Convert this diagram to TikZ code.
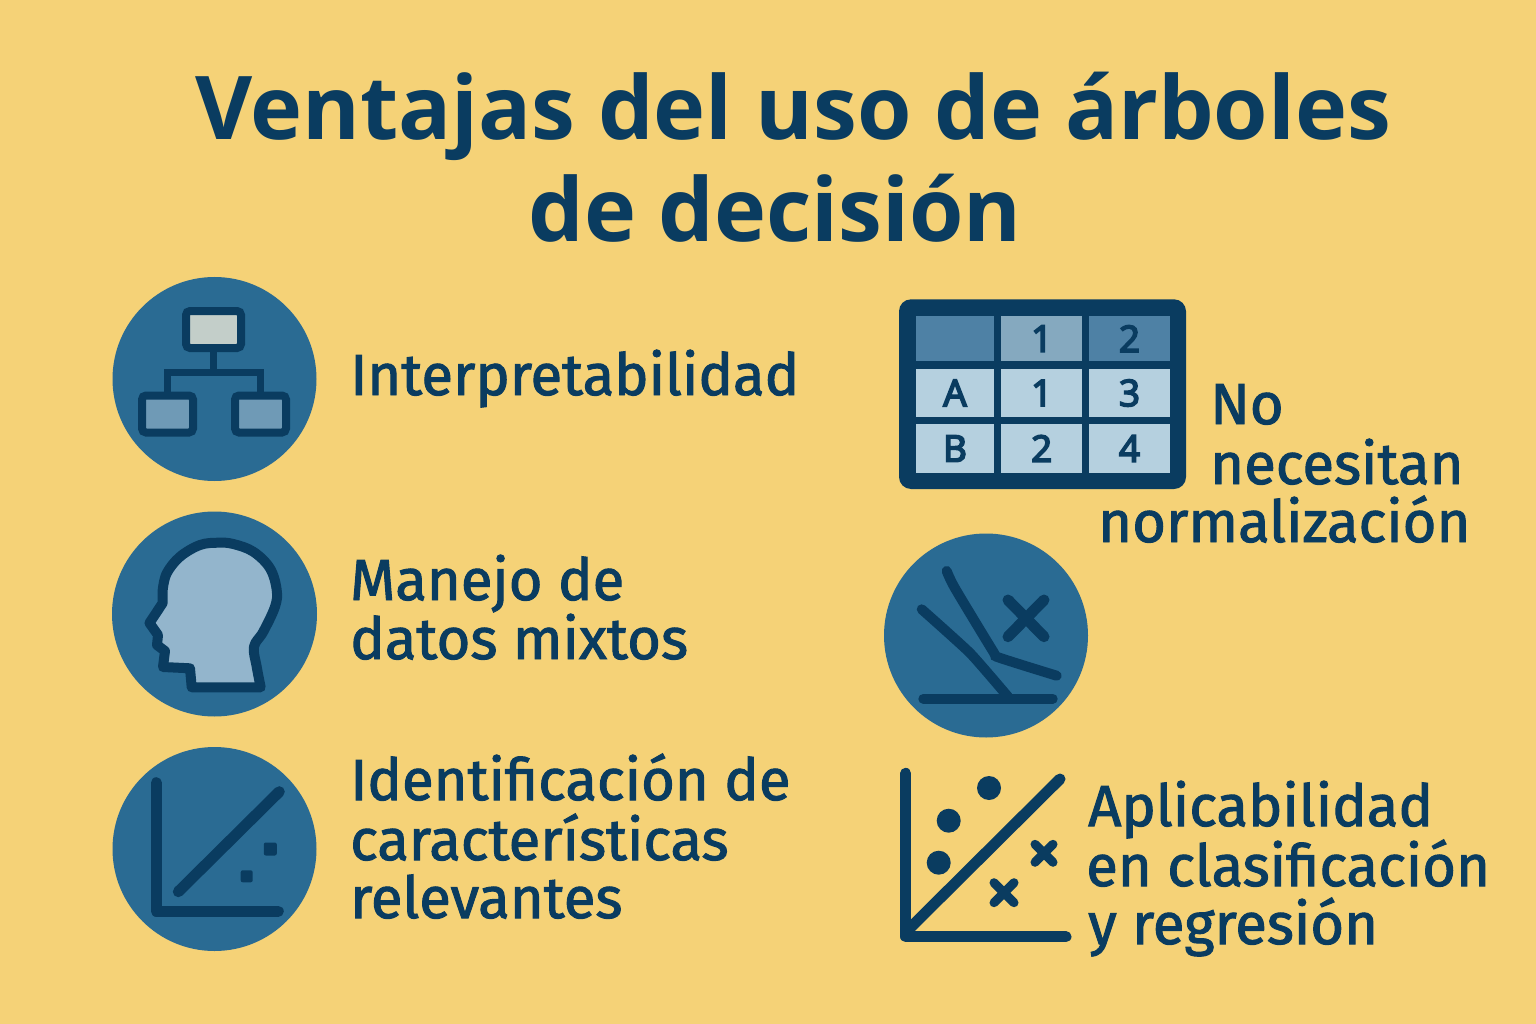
\documentclass[tikz,border=0pt]{standalone}
\usepackage{fontspec}
\setmainfont{Noto Sans}
\newfontfamily\medfont[FakeBold=1.7]{Fira Sans}
\newfontfamily\titfont{Open Sans}
\newfontfamily\cifrafont[FakeBold=4]{Noto Sans}
\definecolor{fondo}{HTML}{F5D277}
\definecolor{azul}{HTML}{2A6B93}
\definecolor{oscuro}{HTML}{0A3C60}
\definecolor{celda}{HTML}{B5D0DF}
\definecolor{raizc}{HTML}{C3CEC9}
\definecolor{hijoc}{HTML}{6F9AB6}
\definecolor{cabeza}{HTML}{93B5CC}
\definecolor{cabA}{HTML}{4E81A5}
\definecolor{cabB}{HTML}{85A9BF}
\tikzset{
	titulo/.style={font=\fontsize{88}{88}\selectfont\titfont\bfseries,text=oscuro,anchor=base,inner sep=0pt},
	lbl/.style={font=\fontsize{58}{58}\selectfont\medfont,text=oscuro,anchor=base west,inner sep=0pt},
	disco/.style={fill=azul},
	trazo/.style={draw=oscuro,line width=10pt,line cap=round,line join=round},
	caja/.style={draw=oscuro,line width=8pt,rounded corners=4pt,minimum height=37pt,inner sep=0pt,outer sep=0pt},
	celdita/.style={fill=celda,inner sep=0pt,text=oscuro,font=\fontsize{37}{37}\selectfont\cifrafont}
}
\begin{document}
\begin{tikzpicture}[x=1pt,y=-1pt]
	\useasboundingbox (0,0) rectangle (1536,1024);
	\fill[fondo] (0,0) rectangle (1536,1024);
	% titulo
	\node[titulo] (tit1) at (793,140) {Ventajas del uso de árboles};
	\node[titulo] (tit2) at (775,242) {de decisión};
	% discos
	\fill[disco] (214.5,379) circle (102pt);
	\fill[disco] (214.5,614) circle (102.5pt);
	\fill[disco] (214.5,849) circle (102pt);
	\fill[disco] (986,635.5) circle (102pt);
	% arbol
	\node[caja,fill=raizc,minimum width=55pt] (raiz) at (213.5,329.5) {};
	\node[caja,fill=hijoc,minimum width=51pt] (hijo1) at (167.5,414) {};
	\node[caja,fill=hijoc,minimum width=51pt] (hijo2) at (260.5,414) {};
	\coordinate (rama) at (213.5,372);
	\draw[oscuro,line width=7pt] (raiz.south)--(rama);
	\draw[oscuro,line width=7pt] (hijo1.north)|-(rama) -|(hijo2.north);
	% cabeza
	\draw[trazo,fill=cabeza] plot[smooth,tension=0.6] coordinates {(260.7,687.3)(256.7,666.7)(254,646.7)(263.3,631.7)(275,606.7)(276.7,590)(270,568.3)(253.3,551.7)(233.3,544)(218.3,542.7)(200,545)(180,556.7)(166.7,573.3)(162.7,590)}
		--(162.7,603)--(149.5,623)--(158,635)--(157,645)--(165,651)--(163,667)
		--(190,668.3)--(191.7,687.3)--cycle;
	% ejes con puntos
	\draw[trazo,line width=11pt] (156.3,782.7)--(156.3,911.3)--(278.3,911.3);
	\draw[trazo,line width=11pt] (178.3,891.7)--(279.3,791.7);
	\fill[oscuro,rounded corners=2pt] (263.8,842.5) rectangle (276.8,855.5);
	\fill[oscuro,rounded corners=2pt] (240.7,870.3) rectangle (252.7,882.3);
	% tabla
	\fill[oscuro,rounded corners=12pt] (899,299.3) rectangle (1186,489);
	\node[celdita,fill=cabA,minimum width=78pt,minimum height=45.5pt] (c00) at (955,338.7) {};
	\node[celdita,fill=cabB,minimum width=80.5pt,minimum height=45.5pt] (c01) at (1041.7,338.7) {1};
	\node[celdita,fill=cabA,minimum width=81pt,minimum height=45.5pt] (c02) at (1129.5,338.7) {2};
	\node[celdita,minimum width=78pt,minimum height=48pt] (c10) at (955,393) {A};
	\node[celdita,minimum width=80.5pt,minimum height=48pt] (c11) at (1041.7,393) {1};
	\node[celdita,minimum width=81pt,minimum height=48pt] (c12) at (1129.5,393) {3};
	\node[celdita,minimum width=78pt,minimum height=49pt] (c20) at (955,448.5) {B};
	\node[celdita,minimum width=80.5pt,minimum height=49pt] (c21) at (1041.7,448.5) {2};
	\node[celdita,minimum width=81pt,minimum height=49pt] (c22) at (1129.5,448.5) {4};
	% curvas
	\draw[trazo] plot[smooth,tension=0.4] coordinates {(946.7,571)(955,588.3)(993.3,651.7)(998.3,657.3)(1056.7,675.7)};
	\draw[trazo] plot[smooth,tension=0.3] coordinates {(921.7,609.3)(970,653)(1008,696.7)};
	\draw[trazo] (923.3,698.7)--(1052.7,698.7);
	\draw[trazo,line width=11pt] (1008,600)--(1044,636.7) (1044,600)--(1008,636.7);
	% dispersion
	\draw[trazo,line width=11pt] (905.7,773.3)--(905.7,936.7)--(1066,936.7);
	\draw[trazo,line width=11pt] (1060,779)--(910,928);
	\fill[oscuro] (989,788) circle (12pt) (948.7,820.7) circle (12pt) (938.7,862.7) circle (12pt);
	\draw[trazo,line width=9pt] (1035,844.3)--(1053,862.3) (1053,844.3)--(1035,862.3);
	\draw[trazo,line width=9pt] (994,882.7)--(1014,902.7) (1014,882.7)--(994,902.7);
	% textos
	\node[lbl] (t1) at (350,395) {Interpretabilidad};
	\node[lbl] (t2a) at (350,600) {Manejo de};
	\node[lbl] (t2b) at (350,659) {datos mixtos};
	\node[lbl] (t3a) at (350,800) {Identificación de};
	\node[lbl] (t3b) at (350,860) {características};
	\node[lbl] (t3c) at (350,918) {relevantes};
	\node[lbl] (t4a) at (1210,424) {No};
	\node[lbl] (t4b) at (1210,484) {necesitan};
	\node[lbl] (t4c) at (1098,542) {normalización};
	\node[lbl] (t5a) at (1088,826) {Aplicabilidad};
	\node[lbl] (t5b) at (1086,886) {en clasificación};
	\node[lbl] (t5c) at (1088,944) {y regresión};
\end{tikzpicture}
\end{document}
